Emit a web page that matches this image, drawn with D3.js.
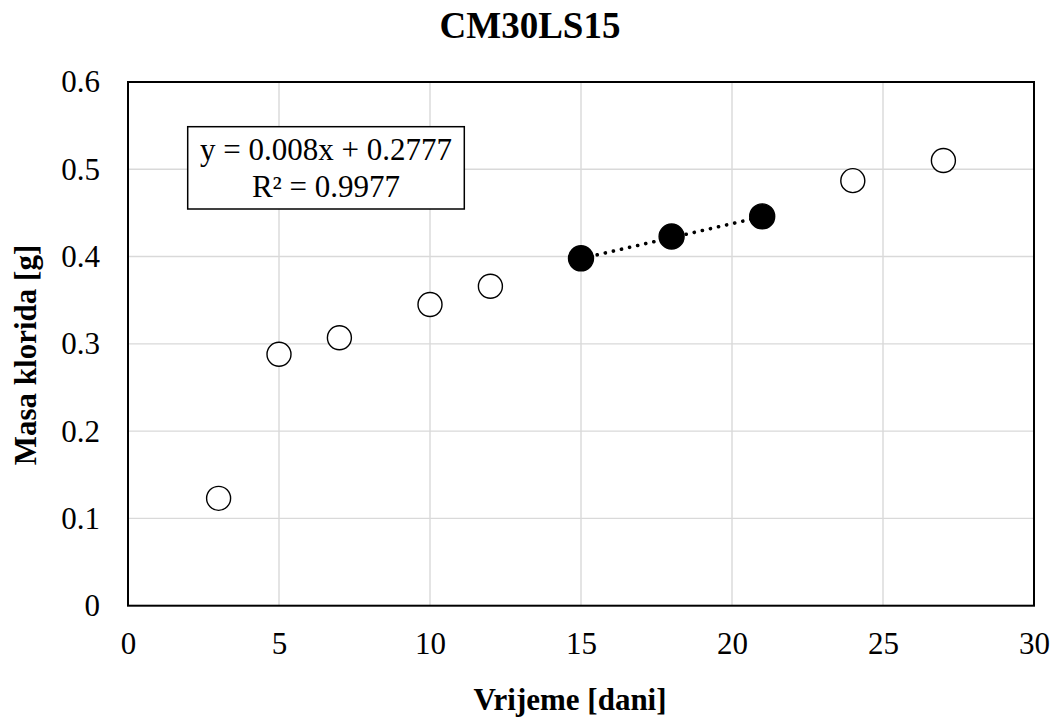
<!DOCTYPE html>
<html>
<head>
<meta charset="utf-8">
<script src="https://cdn.jsdelivr.net/npm/d3@7"></script>
<style>
  html, body { margin: 0; padding: 0; background: #fff; }
  svg { display: block; font-family: "Liberation Serif", "Times New Roman", serif; }
</style>
</head>
<body>
<svg id="chart" width="1055" height="721"></svg>
<script>
// Chloride mass over time, specimen CM30LS15
const days    = [3, 5, 7, 10, 12, 15, 18, 21, 24, 27];
const mass    = [0.123, 0.288, 0.307, 0.345, 0.366, 0.398, 0.423, 0.446, 0.487, 0.510];
// Points used for the linear fit (filled markers)
const fitDays = [15, 18, 21];
const slope = 0.008, intercept = 0.2777;
const eqLines = ["y = 0.008x + 0.2777", "R² = 0.9977"];
const xTicks = [0, 5, 10, 15, 20, 25, 30];
const yTicks = [0, 0.1, 0.2, 0.3, 0.4, 0.5, 0.6];

const svg = d3.select("#chart");
const m = { left: 128, right: 1034, top: 82, bottom: 605.7 };

const x = d3.scaleLinear().domain([0, 30]).range([m.left, m.right]);
const y = d3.scaleLinear().domain([0, 0.6]).range([m.bottom, m.top]);

// Gridlines
svg.append("g").selectAll("line.v").data(xTicks.slice(1, -1)).join("line")
  .attr("x1", d => x(d)).attr("x2", d => x(d))
  .attr("y1", m.top).attr("y2", m.bottom)
  .attr("stroke", "#d9d9d9").attr("stroke-width", 1.4);
svg.append("g").selectAll("line.h").data(yTicks.slice(1, -1)).join("line")
  .attr("x1", m.left).attr("x2", m.right)
  .attr("y1", d => y(d)).attr("y2", d => y(d))
  .attr("stroke", "#d9d9d9").attr("stroke-width", 1.4);

// Plot frame
svg.append("rect")
  .attr("x", m.left).attr("y", m.top)
  .attr("width", m.right - m.left).attr("height", m.bottom - m.top)
  .attr("fill", "none").attr("stroke", "#000").attr("stroke-width", 2);

// Axes (labels only; frame drawn above)
const xAxis = svg.append("g").attr("transform", `translate(0,${m.bottom})`)
  .call(d3.axisBottom(x).tickValues(xTicks).tickSize(0).tickPadding(26).tickFormat(d3.format("d")));
const yAxis = svg.append("g").attr("transform", `translate(${m.left},0)`)
  .call(d3.axisLeft(y).tickValues(yTicks).tickSize(0).tickPadding(28).tickFormat(d => d === 0 ? "0" : d3.format(".1f")(d)));
[xAxis, yAxis].forEach(g => {
  g.select(".domain").remove();
  g.selectAll("text").attr("font-family", "'Liberation Serif', 'Times New Roman', serif")
    .attr("font-size", 31).attr("fill", "#000");
});
yAxis.selectAll("text").attr("dy", "0.32em");

// Linear trendline over the fitted range
const fx = d3.extent(fitDays);
svg.append("line")
  .attr("x1", x(fx[0])).attr("y1", y(slope * fx[0] + intercept))
  .attr("x2", x(fx[1])).attr("y2", y(slope * fx[1] + intercept))
  .attr("stroke", "#000").attr("stroke-width", 3.6)
  .attr("stroke-linecap", "round").attr("stroke-dasharray", "0.1 8.2");

// Markers
const pts = days.map((d, i) => ({ d, v: mass[i], fit: fitDays.includes(d) }));
svg.append("g").selectAll("circle").data(pts).join("circle")
  .attr("cx", p => x(p.d)).attr("cy", p => y(p.v))
  .attr("r", p => p.fit ? 12.5 : 12)
  .attr("fill", p => p.fit ? "#000" : "#fff")
  .attr("stroke", "#000").attr("stroke-width", 1.4);

// Equation box
svg.append("rect")
  .attr("x", 187.7).attr("y", 126.7).attr("width", 276.6).attr("height", 82.3)
  .attr("fill", "#fff").attr("stroke", "#000").attr("stroke-width", 1.5);
svg.append("g").selectAll("text").data(eqLines).join("text")
  .attr("x", 326).attr("y", (d, i) => 160 + i * 37)
  .attr("text-anchor", "middle").attr("font-size", 31).attr("fill", "#000")
  .text(d => d);

// Titles
svg.append("text").attr("x", 530).attr("y", 38.3)
  .attr("text-anchor", "middle").attr("font-size", 37).attr("font-weight", "bold")
  .text("CM30LS15");
svg.append("text").attr("x", 570).attr("y", 710)
  .attr("text-anchor", "middle").attr("font-size", 31).attr("font-weight", "bold")
  .text("Vrijeme [dani]");
svg.append("text").attr("transform", "translate(36,355) rotate(-90)")
  .attr("text-anchor", "middle").attr("font-size", 31).attr("font-weight", "bold")
  .text("Masa klorida [g]");
</script>
</body>
</html>
